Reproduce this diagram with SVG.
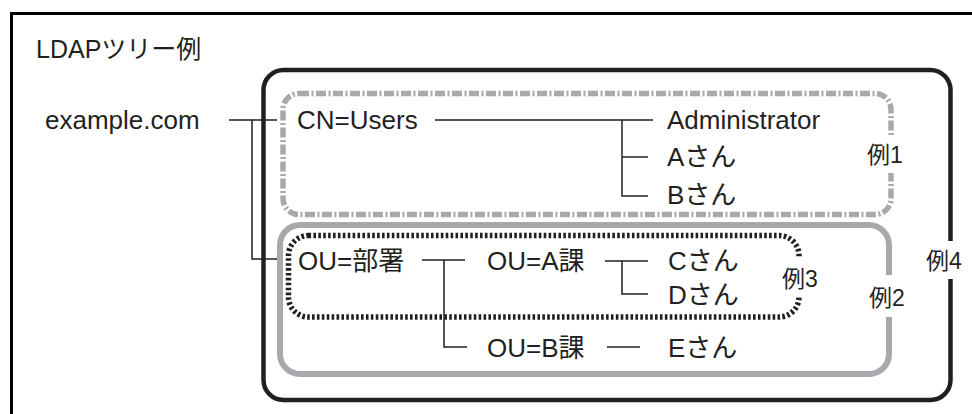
<svg xmlns="http://www.w3.org/2000/svg" width="972" height="414" viewBox="0 0 972 414">
<style>
text{font-family:"Liberation Sans","Noto Sans CJK JP",sans-serif;font-size:26px;fill:#231f20}
.title{font-size:25px}
.lbl{font-size:23px}
.conn{stroke:#231f20;stroke-width:1.5;fill:none}
.bg{fill:#ffffff}
</style>
<rect x="0" y="0" width="972" height="414" fill="#ffffff"/>
<rect id="frame" x="11.5" y="13.5" width="980" height="420" fill="none" stroke="#000" stroke-width="3"/>
<text id="title" class="title" x="36" y="58">LDAPツリー例</text>

<g id="box4"><rect x="263.5" y="70" width="687" height="330" rx="20" fill="none" stroke="#231f20" stroke-width="4.5"/></g>
<g id="box1"><rect x="283" y="93.5" width="608" height="121" rx="16" fill="none" stroke="#a7a9ac" stroke-width="5.5" stroke-dasharray="10 2.5 2 2.5"/></g>
<g id="box2"><rect x="280" y="225" width="609" height="149" rx="20" fill="none" stroke="#a7a9ac" stroke-width="6"/></g>
<g id="box3"><rect x="288.5" y="235.5" width="510.5" height="81.5" rx="20" fill="none" stroke="#231f20" stroke-width="5.5" stroke-dasharray="2.6 2.3"/></g>

<g id="connectors">
<path class="conn" d="M229 120H277M252 120V259H277"/>
<path class="conn" d="M435 120H653M622 120V196H648M622 157H648"/>
<path class="conn" d="M422 260H465M444 260V347H467"/>
<path class="conn" d="M605 261H648M622 261V294H648"/>
<path class="conn" d="M607 347H640"/>
</g>

<g id="n-example"><text x="45" y="129">example.com</text></g>
<g id="n-users"><text x="297" y="129">CN=Users</text></g>
<g id="n-admin"><text x="667" y="129">Administrator</text></g>
<g id="n-a"><text x="667" y="166">Aさん</text></g>
<g id="n-b"><text x="667" y="204">Bさん</text></g>
<g id="n-busho"><text x="298" y="270">OU=部署</text></g>
<g id="n-aka"><text x="487" y="270">OU=A課</text></g>
<g id="n-c"><text x="668" y="270">Cさん</text></g>
<g id="n-d"><text x="668" y="304">Dさん</text></g>
<g id="n-bka"><text x="487" y="357">OU=B課</text></g>
<g id="n-e"><text x="668" y="357">Eさん</text></g>

<g id="l1"><rect class="bg" x="865" y="135" width="40" height="38"/><text class="lbl" x="867" y="163">例1</text></g>
<g id="l2"><rect class="bg" x="867" y="275" width="42" height="42"/><text class="lbl" x="869" y="306">例2</text></g>
<g id="l3"><rect class="bg" x="780" y="258" width="43" height="38"/><text class="lbl" x="782" y="287">例3</text></g>
<g id="l4"><rect class="bg" x="924" y="241" width="46" height="38"/><text class="lbl" x="926" y="269">例4</text></g>
</svg>
